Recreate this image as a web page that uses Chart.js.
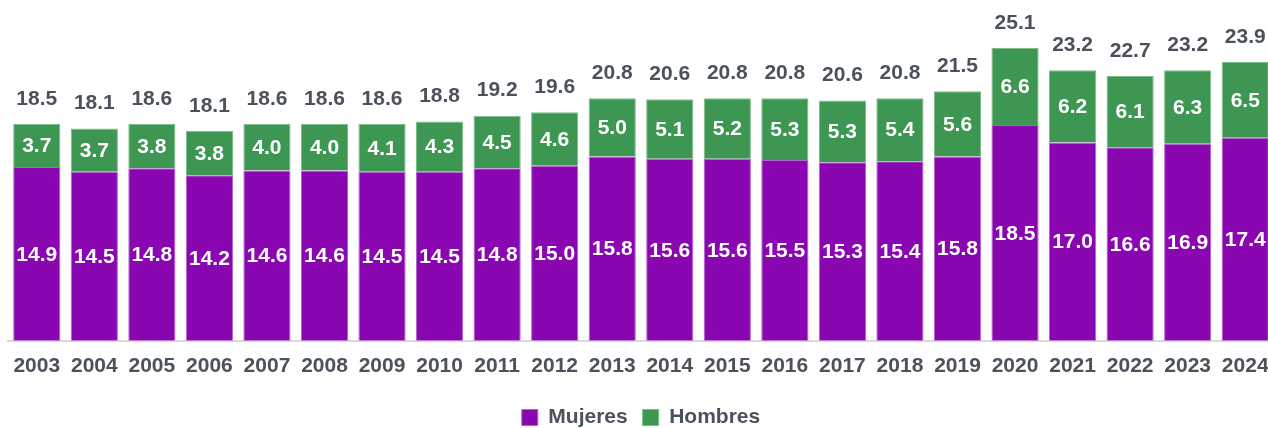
<!DOCTYPE html>
<html>
<head>
<meta charset="utf-8">
<script src="https://cdn.jsdelivr.net/npm/chart.js@4.4.1/dist/chart.umd.min.js"></script>
<style>
    html, body { margin: 0; padding: 0; background: #ffffff; overflow: hidden; }
    #wrap { width: 1274px; height: 438px; position: relative; }
</style>
</head>
<body>
<div id="wrap"><canvas id="barChart"></canvas></div>
<script>
const years = ["2003", "2004", "2005", "2006", "2007", "2008", "2009", "2010", "2011", "2012", "2013",
    "2014", "2015", "2016", "2017", "2018", "2019", "2020", "2021", "2022", "2023", "2024"];
const mujeres = [14.9, 14.5, 14.8, 14.2, 14.6, 14.6, 14.5, 14.5, 14.8, 15.0, 15.8,
    15.6, 15.6, 15.5, 15.3, 15.4, 15.8, 18.5, 17.0, 16.6, 16.9, 17.4];
const hombres = [3.7, 3.7, 3.8, 3.8, 4.0, 4.0, 4.1, 4.3, 4.5, 4.6, 5.0,
    5.1, 5.2, 5.3, 5.3, 5.4, 5.6, 6.6, 6.2, 6.1, 6.3, 6.5];
const totales = [18.5, 18.1, 18.6, 18.1, 18.6, 18.6, 18.6, 18.8, 19.2, 19.6, 20.8,
    20.6, 20.8, 20.8, 20.6, 20.8, 21.5, 25.1, 23.2, 22.7, 23.2, 23.9];

const textGray = "#4b525b";
const fontFam = "'Liberation Sans', Arial, sans-serif";

// etiquetas dentro de las barras y totales encima
const labelsPlugin = {
    id: "barLabels",
    afterDatasetsDraw(chart) {
        const ctx = chart.ctx;
        ctx.save();
        ctx.font = "bold 21px " + fontFam;
        ctx.textAlign = "center";
        ctx.textBaseline = "middle";
        chart.data.datasets.forEach((ds, i) => {
            const meta = chart.getDatasetMeta(i);
            meta.data.forEach((bar, j) => {
                const mid = (bar.y + bar.base) / 2;
                ctx.fillStyle = "#ffffff";
                ctx.fillText(ds.data[j].toFixed(1), bar.x, mid + 1);
            });
        });
        const top = chart.getDatasetMeta(1);
        top.data.forEach((bar, j) => {
            ctx.fillStyle = textGray;
            ctx.fillText(totales[j].toFixed(1), bar.x, bar.y - 25);
        });
        ctx.restore();
    }
};

new Chart(document.getElementById("barChart"), {
    type: "bar",
    data: {
        labels: years,
        datasets: [
            {
                label: "Mujeres",
                data: mujeres,
                backgroundColor: "#8906b0",
                borderColor: "#b064cc",
                borderWidth: 1,
                borderSkipped: "bottom",
                categoryPercentage: 1,
                barPercentage: 0.82
            },
            {
                label: "Hombres",
                data: hombres,
                backgroundColor: "#3d9651",
                borderColor: "#7cbb8a",
                borderWidth: 1,
                borderSkipped: "bottom",
                categoryPercentage: 1,
                barPercentage: 0.82
            }
        ]
    },
    options: {
        responsive: true,
        maintainAspectRatio: false,
        animation: false,
        layout: { padding: { left: 8, right: 0, top: 20, bottom: 0 } },
        plugins: {
            legend: {
                position: "bottom",
                labels: {
                    boxWidth: 16,
                    boxHeight: 16,
                    padding: 15,
                    color: textGray,
                    font: { family: fontFam, size: 21, weight: "bold" }
                }
            },
            tooltip: { enabled: false }
        },
        scales: {
            x: {
                stacked: true,
                grid: { display: false, drawTicks: false },
                border: { display: true, color: "#d9d9d9", width: 2 },
                ticks: {
                    color: textGray,
                    padding: 13,
                    font: { family: fontFam, size: 21, weight: "bold" }
                },
                afterFit(scale) {
                    scale.paddingLeft = 0;
                    scale.paddingRight = 0;
                }
            },
            y: {
                stacked: true,
                display: false,
                min: 0,
                max: 27.5
            }
        }
    },
    plugins: [labelsPlugin]
});
</script>
</body>
</html>
